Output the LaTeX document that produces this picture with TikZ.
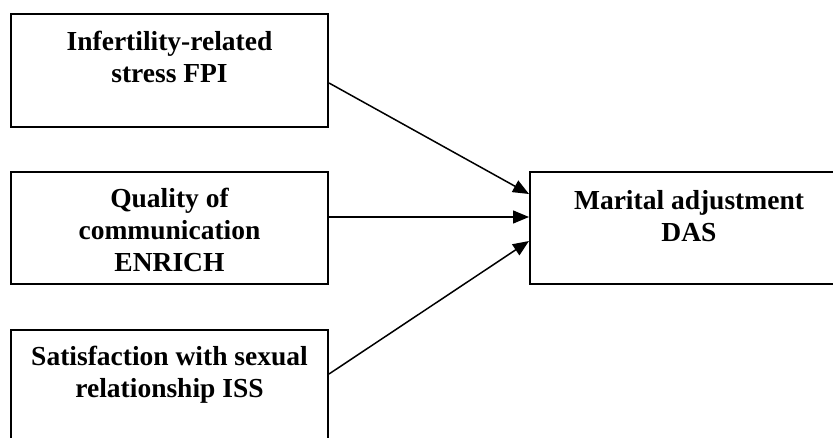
\documentclass[tikz,border=0pt]{standalone}
\usepackage{fontspec}
\setmainfont{Liberation Serif}
\usetikzlibrary{arrows.meta}
\begin{document}
\begin{tikzpicture}[x=1pt,y=1pt,
  box/.style={draw, line width=2pt, minimum width=317pt, minimum height=113pt, inner sep=0pt, anchor=north west},
  lbl/.style={font=\fontsize{27.5}{32}\selectfont\bfseries, align=center, anchor=north, inner sep=0pt},
  conn/.style={line width=1.5pt, -{Triangle[length=16pt,width=13pt]}}]
\useasboundingbox (0,0) rectangle (833,437);
\clip (0,0) rectangle (833,437);
\node[box] (b1) at (10,424) {};
\node[box, minimum height=112pt] (b2) at (10,266) {};
\node[box] (b3) at (10,108) {};
\node[box, minimum width=318pt, minimum height=112pt] (b4) at (529,266) {};
\node[lbl] (t1) at ([yshift=-18pt]b1.north) {Infertility-related\\stress FPI};
\node[lbl] (t2) at ([yshift=-17pt]b2.north) {Quality of\\communication\\ENRICH};
\node[lbl] (t3) at ([yshift=-17pt]b3.north) {Satisfaction with sexual\\relationship ISS};
\node[lbl] (t4) at ([yshift=-19pt]b4.north) {Marital adjustment\\DAS};
\draw[conn] ([yshift=-12.5pt]b1.east) -- ([yshift=34pt]b4.west);
\draw[conn] ([yshift=11pt]b2.east) -- ([yshift=11pt]b4.west);
\draw[conn] ([yshift=12.5pt]b3.east) -- ([yshift=-13pt]b4.west);
\end{tikzpicture}
\end{document}
